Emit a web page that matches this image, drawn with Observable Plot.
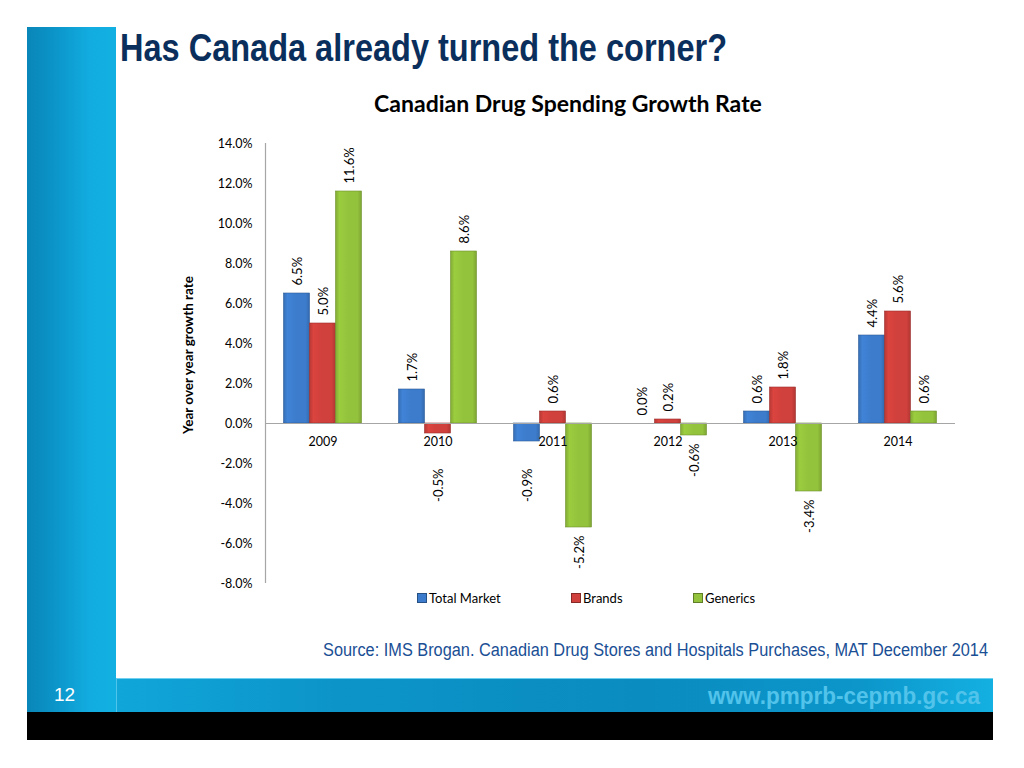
<!DOCTYPE html>
<html>
<head>
<meta charset="utf-8">
<script src="https://cdn.jsdelivr.net/npm/d3@7"></script>
<script src="https://cdn.jsdelivr.net/npm/@observablehq/plot@0.6"></script>
<style>
  html, body { margin: 0; padding: 0; background: #fff; }
  #slide { position: relative; width: 1024px; height: 768px; overflow: hidden; background: #fff; }
  #sidebar { position: absolute; left: 27px; top: 27px; width: 89px; height: 685px;
    background: linear-gradient(to right, #0a86b8 0%, #0b94c8 30%, #12ace0 70%, #12b0e2 100%); }
  #footer { position: absolute; left: 116px; top: 678px; width: 877px; height: 34px;
    background: linear-gradient(to right, #10a6da 0%, #0c94c8 25%, #0a8cc0 60%, #0c96ca 85%, #14b0e2 100%);
    border-top: 1px solid #6fd0f0; border-left: 1px solid #50c4ea; box-sizing: border-box; }
  #black { position: absolute; left: 27px; top: 712px; width: 966px; height: 28px; background: #000; }
  #pagenum { position: absolute; left: 54px; top: 684px; color: #fff; font: 19px "Liberation Sans", Arial, sans-serif; }
  .narrow { position: absolute; white-space: nowrap; transform-origin: 0 0; }
  #url { top: 682px; color: #52c3ea; font: bold 24px "Liberation Sans", Arial, sans-serif; }
  #title { left: 120px; top: 27px; color: #0b2f5c; font: bold 38px "Liberation Sans", Arial, sans-serif; }
  #charttitle { position: absolute; left: 0; width: 1136px; top: 89px; text-align: center; color: #000; font: bold 23px Lato, sans-serif; }
  #source { left: 323px; top: 640px; color: #1a4f95; font: 18px "Liberation Sans", Arial, sans-serif; }
  #legend { position: absolute; top: 590px; left: 0; width: 1024px; height: 18px; font: 13px Lato, sans-serif; color: #000; }
  .lg { position: absolute; display: flex; align-items: center; }
  .sw { width: 8px; height: 8px; margin-right: 2px; border: 1px solid rgba(0,0,0,0.35); }
  #chart { position: absolute; left: 0; top: 0; }
</style>
</head>
<body>
<div id="slide">
  <div id="sidebar"></div>
  <div id="footer"></div>
  <div id="black"></div>
  <div id="pagenum">12</div>
  <div id="url" class="narrow">www.pmprb-cepmb.gc.ca</div>
  <div id="title" class="narrow">Has Canada already turned the corner?</div>
  <div id="charttitle">Canadian Drug Spending Growth Rate</div>
  <div id="chart"></div>
  <div id="legend"></div>
  <div id="source" class="narrow">Source: IMS Brogan. Canadian Drug Stores and Hospitals Purchases, MAT December 2014</div>
</div>
<script>
// ---- data ----
const years = ["2009", "2010", "2011", "2012", "2013", "2014"];
const series = ["Total Market", "Brands", "Generics"];
const totalMarket = [6.5, 1.7, -0.9, 0.0, 0.6, 4.4];
const brands = [5.0, -0.5, 0.6, 0.2, 1.8, 5.6];
const generics = [11.6, 8.6, -5.2, -0.6, -3.4, 0.6];
const yTicks = [-8, -6, -4, -2, 0, 2, 4, 6, 8, 10, 12, 14];

const seriesValues = [totalMarket, brands, generics];
const colors = ["#3d7ccc", "#d0403c", "#93c23c"];
const gradIds = ["gBlue", "gRed", "gGreen"];
const offsets = [-26, 0, 26];

const rows = [];
series.forEach((s, si) => years.forEach((y, yi) => rows.push({year: y, series: s, si, value: seriesValues[si][yi]})));

const fmt = v => v.toFixed(1) + "%";

const marks = [];
series.forEach((s, si) => {
  const data = rows.filter(d => d.si === si);
  marks.push(Plot.barY(data, {
    x: "year", y: "value",
    fill: `url(#${gradIds[si]})`,
    stroke: d3.color(colors[si]).darker(0.8).formatHex(),
    strokeWidth: 0.6,
    insetLeft: 44.5, insetRight: 44.5, dx: offsets[si]
  }));
});
marks.push(Plot.ruleY([0], {stroke: "#a6a6a6", strokeWidth: 1.2}));
marks.push(Plot.ruleX([years[0]], {x: d => d, dx: -57.5, stroke: "#a6a6a6", strokeWidth: 1.2}));
// year labels under the zero line
marks.push(Plot.text(years, {x: d => d, y: () => 0, dy: 18, text: d => d, fontSize: 12.5, fill: "#000"}));
// value labels
series.forEach((s, si) => {
  const data = rows.filter(d => d.si === si);
  marks.push(Plot.text(data.filter(d => d.value >= 0), {
    x: "year", y: "value", text: d => fmt(d.value), rotate: -90, textAnchor: "start",
    dx: offsets[si] + 0.5, dy: -8, fontSize: 13, fill: "#000"
  }));
  marks.push(Plot.text(data.filter(d => d.value < 0), {
    x: "year", y: d => (si < 2 ? Math.min(d.value, -1.85) : d.value), text: d => fmt(d.value), rotate: -90, textAnchor: "end",
    dx: offsets[si] + 0.5, dy: 8, fontSize: 13, fill: "#000"
  }));
});

const plot = Plot.plot({
  width: 1024, height: 768,
  marginLeft: 265, marginRight: 69, marginTop: 143, marginBottom: 185,
  style: {fontFamily: "Lato, sans-serif", fontSize: "13px", background: "transparent", overflow: "visible"},
  x: {domain: years, padding: 0, axis: null},
  y: {domain: [-8, 14], label: null, axis: null},
  marks: [
    Plot.axisY({ticks: yTicks, tickFormat: d => d.toFixed(1) + "%", tickSize: 0, tickPadding: 13, fontSize: 12.5, label: null}),
    ...marks
  ]
});

// gradients for bevelled bars
const ns = "http://www.w3.org/2000/svg";
const defs = document.createElementNS(ns, "defs");
colors.forEach((c, i) => {
  const g = document.createElementNS(ns, "linearGradient");
  g.setAttribute("id", gradIds[i]);
  g.setAttribute("x1", "0"); g.setAttribute("x2", "1"); g.setAttribute("y1", "0"); g.setAttribute("y2", "0");
  const base = d3.color(c);
  [[0, base.darker(0.35)], [0.15, base.brighter(0.15)], [0.5, base], [0.85, base], [1, base.darker(0.45)]].forEach(([o, col]) => {
    const st = document.createElementNS(ns, "stop");
    st.setAttribute("offset", o);
    st.setAttribute("stop-color", col.formatHex());
    g.appendChild(st);
  });
  defs.appendChild(g);
});
plot.insertBefore(defs, plot.firstChild);
document.getElementById("chart").appendChild(plot);

// axis title
const yLab = document.createElementNS(ns, "text");
yLab.setAttribute("transform", "translate(193,355) rotate(-90)");
yLab.setAttribute("text-anchor", "middle");
yLab.setAttribute("font-size", "13.5");
yLab.setAttribute("font-weight", "bold");
yLab.setAttribute("fill", "#000");
yLab.textContent = "Year over year growth rate";
plot.appendChild(yLab);

// legend
const legendX = [421, 575, 697];
const lg = document.getElementById("legend");
series.forEach((s, i) => {
  const item = document.createElement("div");
  item.className = "lg";
  item.style.left = (legendX[i] - 4) + "px";
  const sw = document.createElement("div");
  sw.className = "sw";
  sw.style.background = colors[i];
  item.appendChild(sw);
  const t = document.createElement("span");
  t.textContent = s;
  item.appendChild(t);
  lg.appendChild(item);
});

// condensed text: squeeze to the reference widths
function squeeze(id, width, left) {
  const el = document.getElementById(id);
  const w = el.getBoundingClientRect().width;
  el.style.transform = `scaleX(${width / w})`;
  if (left !== undefined) el.style.left = left + "px";
}
squeeze("title", 607);
squeeze("source", 665);
squeeze("url", 272, 708);
</script>
</body>
</html>
